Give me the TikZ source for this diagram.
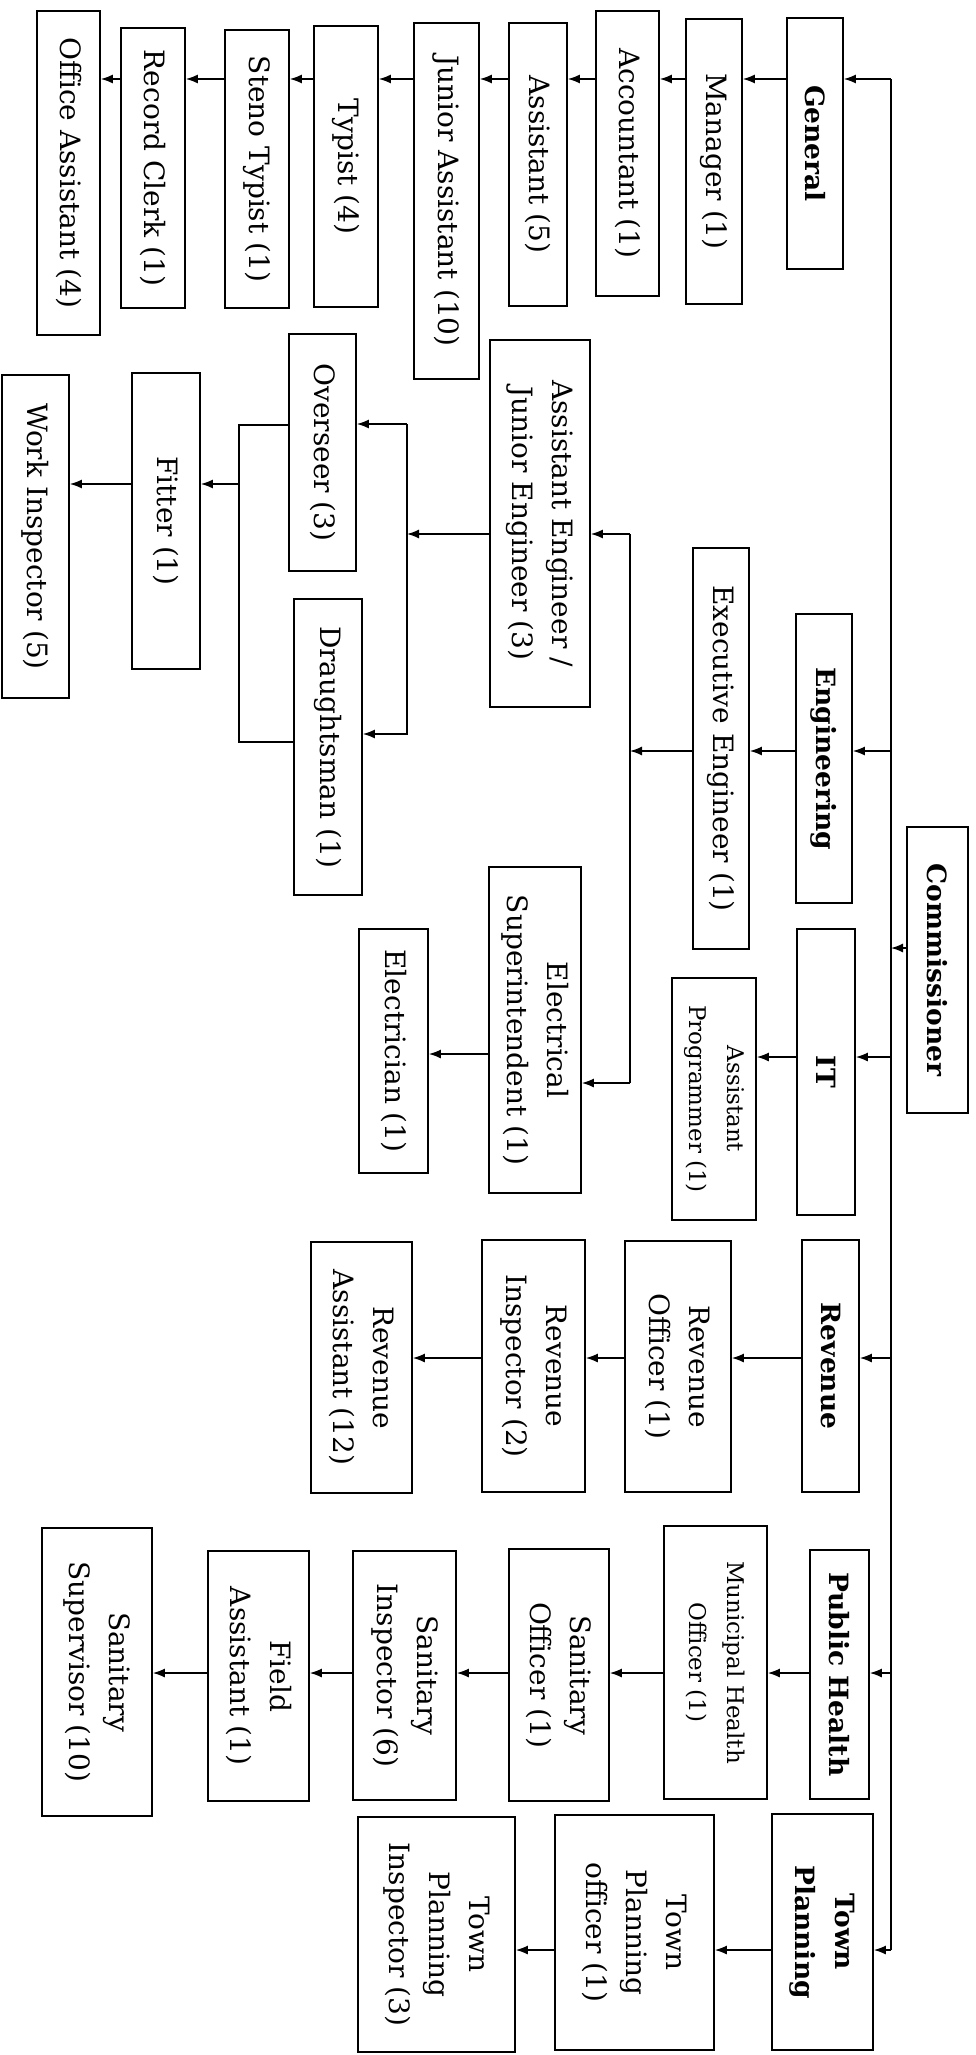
\documentclass[tikz,border=0pt]{standalone}
\usepackage{fontspec}
\setmainfont{DejaVu Serif}
\usetikzlibrary{arrows.meta}
\newcommand{\postfont}{\fontsize{28}{40}\selectfont}
\newcommand{\deptfont}{\fontsize{26.5}{40}\selectfont\bfseries}
\newcommand{\smallpostfont}{\fontsize{23}{38}\selectfont}

\begin{document}
\begin{tikzpicture}[x=1pt, y=-1pt,
  post/.style={draw, line width=1.7pt, rotate=-90, align=center, inner sep=0pt, font=\postfont},
  dept/.style={post, font=\deptfont},
  wh/.style 2 args={minimum width=#1pt, minimum height=#2pt},
  arr/.style={-{Latex[length=12pt,width=9pt]}, line width=1.4pt},
  link/.style={line width=1.4pt}]
\useasboundingbox (0,0) rectangle (975,2055);

% Commissioner and the main line
\node[dept, wh={286}{61}] (commissioner) at (937.5,970) {Commissioner};
\coordinate (bGen) at (891,79);
\coordinate (bEng) at (891,751);
\coordinate (bComm) at (891,948);
\coordinate (bIT) at (891,1057);
\coordinate (bRev) at (891,1358);
\coordinate (bPH) at (891,1673);
\coordinate (bTP) at (891,1950);
\draw[link] (bGen) -- (bTP);
\draw[arr] (commissioner.south |- bComm) -- (bComm);

% General
\node[dept, wh={251}{56}] (general) at (815,143.5) {General};
\node[post, wh={285}{56}] (manager) at (714,161.5) {Manager (1)};
\node[post, wh={285}{63}] (accountant) at (627.5,153.5) {Accountant (1)};
\node[post, wh={283}{58}] (assistant) at (538,164.5) {Assistant (5)};
\node[post, wh={356}{65}] (juniorasst) at (446.5,201) {Junior Assistant (10)};
\node[post, wh={281}{64}] (typist) at (346,166.5) {Typist (4)};
\node[post, wh={278}{64}] (steno) at (257,169) {Steno Typist (1)};
\node[post, wh={280}{64}] (clerk) at (153,168) {Record Clerk (1)};
\node[post, wh={324}{63}] (officeasst) at (68.5,173) {Office Assistant (4)};

\draw[arr] (bGen) -- (general.north |- bGen);
\draw[arr] (general.south |- bGen) -- (manager.north |- bGen);
\draw[arr] (manager.south |- bGen) -- (accountant.north |- bGen);
\draw[arr] (accountant.south |- bGen) -- (assistant.north |- bGen);
\draw[arr] (assistant.south |- bGen) -- (juniorasst.north |- bGen);
\draw[arr] (juniorasst.south |- bGen) -- (typist.north |- bGen);
\draw[arr] (typist.south |- bGen) -- (steno.north |- bGen);
\draw[arr] (steno.south |- bGen) -- (clerk.north |- bGen);
\draw[arr] (clerk.south |- bGen) -- (officeasst.north |- bGen);

% Engineering
\node[dept, wh={289}{56}] (engineering) at (824,758.5) {Engineering};
\node[post, wh={401}{56}] (execeng) at (721,748.5) {Executive Engineer (1)};
\node[post, wh={367}{100}] (asstjuneng) at (540,523.5) {Assistant Engineer /\\Junior Engineer (3)};
\node[post, wh={326}{92}] (elecsupt) at (535,1030) {Electrical\\Superintendent (1)};
\node[post, wh={244}{69}] (electrician) at (393.5,1051) {Electrician (1)};
\node[post, wh={237}{67}] (overseer) at (322.5,452.5) {Overseer (3)};
\node[post, wh={296}{68}] (draughtsman) at (328,747) {Draughtsman (1)};
\node[post, wh={296}{68}] (fitter) at (166,521) {Fitter (1)};
\node[post, wh={323}{67}] (workinsp) at (35.5,536.5) {Work Inspector (5)};

\draw[arr] (bEng) -- (engineering.north |- bEng);
\draw[arr] (engineering.south |- bEng) -- (execeng.north |- bEng);

\coordinate (ebus) at (630,751);
\coordinate (ebusN) at (630,534);
\coordinate (ebusS) at (630,1083);
\draw[arr] (execeng.south |- ebus) -- (ebus);
\draw[link] (ebusN) -- (ebusS);
\draw[arr] (ebusN) -- (asstjuneng.north |- ebusN);
\draw[arr] (ebusS) -- (elecsupt.north |- ebusS);
\coordinate (esrow) at (0,1054);
\draw[arr] (elecsupt.south |- esrow) -- (electrician.north |- esrow);

% Overseer / Draughtsman bracket
\coordinate (obr) at (407,534);
\coordinate (obrN) at (407,424);
\coordinate (obrS) at (407,734);
\draw[arr] (asstjuneng.south |- obr) -- (obr);
\draw[arr] (obrN) -- (overseer.north |- obrN);
\draw[arr] (obrN) -- (obrS) -- (draughtsman.north |- obrS);

\coordinate (lbrN) at (239,425);
\coordinate (lbrS) at (239,742);
\coordinate (lbrF) at (239,484);
\draw[link] (overseer.south |- lbrN) -- (lbrN) -- (lbrS) -- (draughtsman.south |- lbrS);
\draw[arr] (lbrF) -- (fitter.north |- lbrF);
\draw[arr] (fitter.south |- lbrF) -- (workinsp.north |- lbrF);

% IT
\node[dept, wh={286}{58}] (it) at (826,1072) {IT};
\node[post, wh={242}{84}, font=\smallpostfont] (asstprog) at (714,1099) {Assistant\\Programmer (1)};
\draw[arr] (bIT) -- (it.north |- bIT);
\draw[arr] (it.south |- bIT) -- (asstprog.north |- bIT);

% Revenue
\node[dept, wh={252}{57}] (revenue) at (830.5,1366) {Revenue};
\node[post, wh={251}{106}] (revofficer) at (678,1366.5) {Revenue\\Officer (1)};
\node[post, wh={252}{103}] (revinsp) at (533.5,1366) {Revenue\\Inspector (2)};
\node[post, wh={251}{101}] (revasst) at (361.5,1367.5) {Revenue\\Assistant (12)};
\draw[arr] (bRev) -- (revenue.north |- bRev);
\draw[arr] (revenue.south |- bRev) -- (revofficer.north |- bRev);
\draw[arr] (revofficer.south |- bRev) -- (revinsp.north |- bRev);
\draw[arr] (revinsp.south |- bRev) -- (revasst.north |- bRev);

% Public Health
\node[dept, wh={249}{59}] (pubhealth) at (839.5,1674.5) {Public Health};
\node[post, wh={273}{103}, font=\smallpostfont] (mho) at (715.5,1662.5) {Municipal Health\\Officer (1)};
\node[post, wh={252}{100}] (sanofficer) at (559,1675) {Sanitary\\Officer (1)};
\node[post, wh={249}{103}] (saninsp) at (404.5,1675.5) {Sanitary\\Inspector (6)};
\node[post, wh={250}{101}] (fieldasst) at (258.5,1676) {Field\\Assistant (1)};
\node[post, wh={288}{110}] (sansuper) at (97,1672) {Sanitary\\Supervisor (10)};
\draw[arr] (bPH) -- (pubhealth.north |- bPH);
\draw[arr] (pubhealth.south |- bPH) -- (mho.north |- bPH);
\draw[arr] (mho.south |- bPH) -- (sanofficer.north |- bPH);
\draw[arr] (sanofficer.south |- bPH) -- (saninsp.north |- bPH);
\draw[arr] (saninsp.south |- bPH) -- (fieldasst.north |- bPH);
\draw[arr] (fieldasst.south |- bPH) -- (sansuper.north |- bPH);

% Town Planning
\node[dept, wh={236}{101}] (townplan) at (822.5,1932) {Town\\Planning};
\node[post, wh={235}{159}] (tpofficer) at (634.5,1932.5) {Town\\Planning\\officer (1)};
\node[post, wh={235}{157}] (tpinsp) at (436.5,1934.5) {Town\\Planning\\Inspector (3)};
\draw[arr] (bTP) -- (townplan.north |- bTP);
\draw[arr] (townplan.south |- bTP) -- (tpofficer.north |- bTP);
\draw[arr] (tpofficer.south |- bTP) -- (tpinsp.north |- bTP);
\end{tikzpicture}
\end{document}
